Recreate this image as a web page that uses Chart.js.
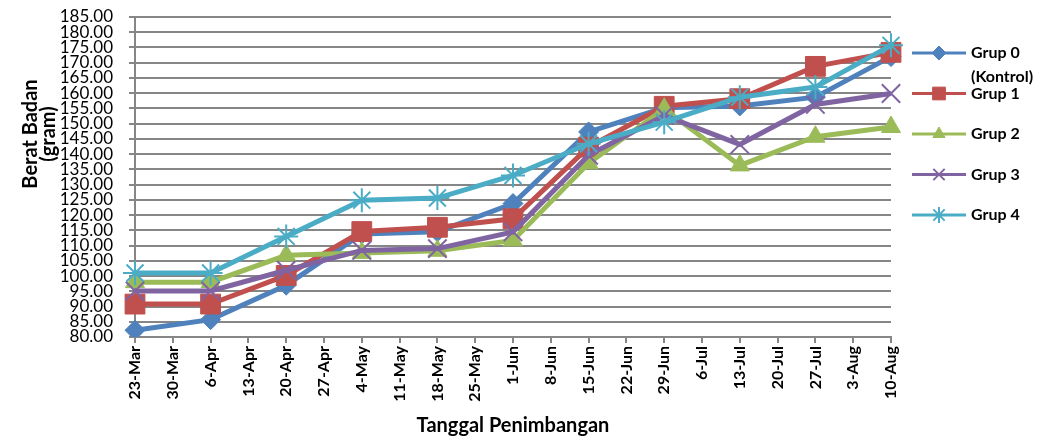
<!DOCTYPE html>
<html>
<head>
<meta charset="utf-8">
<script src="https://cdn.jsdelivr.net/npm/chart.js@4"></script>
<style>
  html, body { margin: 0; padding: 0; background: #fff; }
  #wrap { width: 1041px; height: 438px; position: relative; }
</style>
</head>
<body>
<div id="wrap"><canvas id="grafik"></canvas></div>
<script>
// sumbu x: label tanggal setiap minggu
const tickLabels = ['23-Mar', '30-Mar', '6-Apr', '13-Apr', '20-Apr', '27-Apr', '4-May', '11-May',
  '18-May', '25-May', '1-Jun', '8-Jun', '15-Jun', '22-Jun', '29-Jun', '6-Jul', '13-Jul',
  '20-Jul', '27-Jul', '3-Aug', '10-Aug'];

// tanggal penimbangan (tiap 2 minggu)
const weighDates = ['23-Mar', '6-Apr', '20-Apr', '4-May', '18-May', '1-Jun', '15-Jun',
  '29-Jun', '13-Jul', '27-Jul', '10-Aug'];

const grup0 = [82.2, 85.7, 97.0, 113.8, 114.5, 123.8, 147.3, 155.2, 155.8, 158.7, 172.0];
const grup1 = [90.8, 90.8, 100.2, 114.6, 116.0, 118.8, 142.3, 155.7, 158.2, 168.8, 173.4];
const grup2 = [98.0, 98.0, 106.8, 107.6, 108.3, 111.7, 137.0, 154.9, 136.3, 145.7, 148.9];
const grup3 = [95.1, 95.1, 101.9, 108.4, 109.0, 114.5, 139.6, 152.7, 143.2, 156.3, 159.9];
const grup4 = [101.0, 101.0, 113.0, 124.9, 125.6, 133.0, 143.4, 150.5, 158.7, 162.0, 175.7];

const seriesNames = [['Grup 0', '(Kontrol)'], ['Grup 1'], ['Grup 2'], ['Grup 3'], ['Grup 4']];
const seriesValues = [grup0, grup1, grup2, grup3, grup4];
const seriesColors = ['#4F81BD', '#C0504D', '#9BBB59', '#8064A2', '#4BACC6'];
const pointStyles = ['rectRot', 'rect', 'triangle', 'crossRot', 'star'];
const pointSizes = [10, 14, 11, 13, 12];
const legendSizes = [7, 9, 7, 8, 8];

const gridColor = '#868686';
const fontFam = 'Lato, "Open Sans", sans-serif';

const datasets = seriesValues.map((vals, i) => ({
  label: seriesNames[i].join(' '),
  data: weighDates.map((d, j) => ({ x: d, y: vals[j] })),
  borderColor: seriesColors[i],
  backgroundColor: seriesColors[i],
  borderWidth: 5,
  tension: 0,
  pointStyle: pointStyles[i],
  pointRadius: pointSizes[i],
  pointHoverRadius: pointSizes[i],
  pointBorderWidth: (i >= 3) ? 2 : 1,
  order: seriesValues.length - i
}));

// legenda dan judul sumbu y digambar sendiri
const extrasPlugin = {
  id: 'extras',
  afterDraw(chart) {
    const ctx = chart.ctx;
    const area = chart.chartArea;
    ctx.save();

    // judul sumbu y (dua baris)
    ctx.fillStyle = '#000';
    ctx.font = 'bold 20px ' + fontFam;
    ctx.textAlign = 'center';
    ctx.textBaseline = 'middle';
    ctx.translate(31, 134);
    ctx.rotate(-Math.PI / 2);
    ctx.fillText('Berat Badan', 0, 0);
    ctx.fillText('(gram)', 0, 18);
    ctx.restore();

    // legenda
    ctx.save();
    const lx0 = area.right + 21;
    const lx1 = lx0 + 54;
    const top = 53;
    const step = 40.5;
    ctx.font = 'bold 16px ' + fontFam;
    ctx.textAlign = 'left';
    ctx.textBaseline = 'middle';
    seriesNames.forEach((name, i) => {
      const y = top + i * step;
      ctx.strokeStyle = seriesColors[i];
      ctx.lineWidth = 3;
      ctx.beginPath();
      ctx.moveTo(lx0, y);
      ctx.lineTo(lx1, y);
      ctx.stroke();
      ctx.fillStyle = seriesColors[i];
      ctx.lineWidth = (i >= 3) ? 2 : 1;
      Chart.helpers.drawPoint(ctx, {
        pointStyle: pointStyles[i],
        radius: legendSizes[i],
        rotation: 0,
        borderWidth: ctx.lineWidth
      }, (lx0 + lx1) / 2, y);
      ctx.fillStyle = '#000';
      name.forEach((line, k) => ctx.fillText(line, lx1 + 5, y + k * 24));
    });
    ctx.restore();
  }
};

new Chart(document.getElementById('grafik'), {
  type: 'line',
  data: { labels: tickLabels, datasets },
  plugins: [extrasPlugin],
  options: {
    responsive: true,
    maintainAspectRatio: false,
    animation: false,
    layout: { padding: { top: 17, right: 150, left: 0, bottom: 0 } },
    plugins: {
      legend: { display: false },
      tooltip: { enabled: false },
      title: { display: false }
    },
    scales: {
      x: {
        type: 'category',
        offset: false,
        border: { display: true, color: gridColor, width: 2 },
        grid: { display: true, drawOnChartArea: false, drawTicks: true, tickLength: 6, color: gridColor, lineWidth: 2 },
        ticks: {
          autoSkip: false,
          maxRotation: 90,
          minRotation: 90,
          padding: 3,
          color: '#000',
          font: { family: fontFam, size: 16, weight: 'bold' }
        },
        title: {
          display: true,
          text: 'Tanggal Penimbangan',
          color: '#000',
          font: { family: fontFam, size: 20, weight: 'bold' },
          padding: { top: 2, bottom: 0 }
        },
        afterFit(scale) {
          scale.height = 101;
          scale.paddingTop = 0;
          scale.paddingBottom = 0;
        }
      },
      y: {
        min: 80,
        max: 185,
        border: { display: true, color: gridColor, width: 2 },
        grid: { color: gridColor, lineWidth: 2, tickLength: 6 },
        ticks: {
          stepSize: 5,
          autoSkip: false,
          padding: 16,
          color: '#000',
          font: { family: fontFam, size: 17 },
          callback: v => v.toFixed(2)
        },
        afterFit(scale) {
          scale.width = 135;
          scale.paddingTop = 0;
          scale.paddingBottom = 0;
        }
      }
    }
  }
});
</script>
</body>
</html>
